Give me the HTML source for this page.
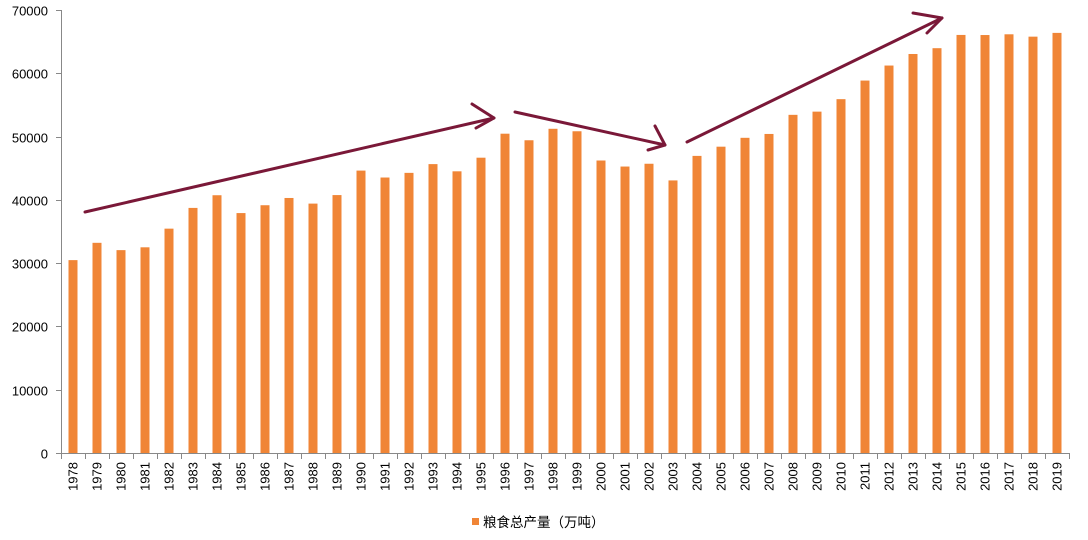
<!DOCTYPE html>
<html><head><meta charset="utf-8"><style>body{margin:0;background:#fff}svg{display:block}</style></head><body>
<svg width="1088" height="540" xmlns="http://www.w3.org/2000/svg" font-family="'Liberation Sans','DejaVu Sans',sans-serif">
<g id="ax" stroke="#888" stroke-width="1"></g>
<g id="bars" fill="#f08536"></g>
<g id="lbl" font-size="13" fill="#000"></g>
<g stroke="#7a1838" stroke-width="3" fill="none" stroke-linecap="round" stroke-linejoin="round">
<line x1="85" y1="212" x2="494" y2="118"/><polyline points="472,104 494,118 476,128"/>
<line x1="515" y1="112" x2="665" y2="145"/><polyline points="655,126 665,145 648,150"/>
<line x1="687" y1="142" x2="942" y2="18"/><polyline points="913,13 942,18 927,33"/>
</g>
<rect x="472" y="518" width="7" height="7" fill="#f08536"/>
<text x="483" y="527" font-size="13.5" font-family="'Liberation Sans','Noto Sans CJK SC',sans-serif">粮食总产量（万吨）</text>
<script>
var v=[30477,33212,32056,32502,35450,38728,40731,37911,39151,40298,39408,40755,44624,43529,44266,45649,44510,46662,50454,49417,51230,50839,46218,45264,45706,43070,46947,48402,49804,50414,53434,53941,55911,58849,61223,63048,63965,66060,66044,66161,65789,66384];
var ns="http://www.w3.org/2000/svg";function el(t,a,p){var e=document.createElementNS(ns,t);for(var k in a)e.setAttribute(k,a[k]);document.getElementById(p).appendChild(e);return e;}
var y0=453,s=443/70000;
el('line',{x1:61.5,y1:10,x2:61.5,y2:453},'ax');el('line',{x1:61,y1:453.5,x2:1069,y2:453.5},'ax');
for(var i=0;i<=7;i++){var y=Math.round(y0-i*10000*s)+.5;el('line',{x1:56,y1:y,x2:61,y2:y},'ax');var t=el('text',{x:48,y:y+5,'text-anchor':'end','font-size':'13'},'lbl');t.textContent=i*10000;}
for(var i=0;i<=42;i++){var x=61.5+24*i;el('line',{x1:x,y1:453,x2:x,y2:459},'ax');}
v.forEach(function(d,i){var c=73+24*i,h=d*s;el('rect',{x:c-4.5,y:y0-h,width:9,height:h},'bars');var t=el('text',{transform:'translate('+(c+4.5)+',462) rotate(-90)','text-anchor':'end'},'lbl');t.textContent=1978+i;});
</script>
</svg>
</body></html>
